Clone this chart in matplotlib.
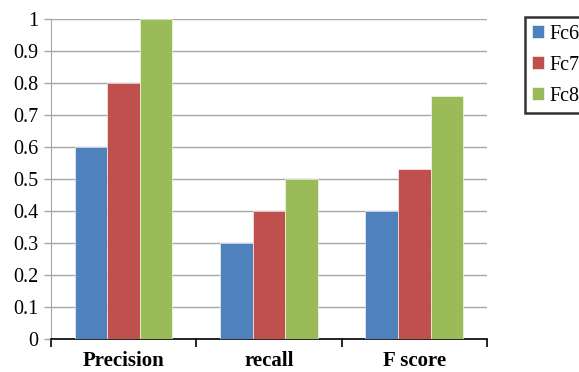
import numpy as np
import matplotlib
matplotlib.use("Agg")
import matplotlib.pyplot as plt

categories = ["Precision", "recall", "F score"]
series_names = ["Fc6", "Fc7", "Fc8"]
fc6 = [0.6, 0.3, 0.4]
fc7 = [0.8, 0.4, 0.53]
fc8 = [1.0, 0.5, 0.76]
colors = ["#4F81BD", "#C0504D", "#9BBB59"]

plt.rcParams["font.family"] = ["Liberation Serif", "DejaVu Serif"]

fig = plt.figure(figsize=(5.79, 3.72), dpi=100)
ax = fig.add_axes([0.088, 0.089, 0.753, 0.860])

x = np.arange(len(categories))
w = 0.224
for i, (vals, name) in enumerate(zip([fc6, fc7, fc8], series_names)):
	ax.bar(x + (i - 1) * w, vals, width=w, color=colors[i], label=name,
		edgecolor="white", linewidth=0.4, zorder=3)

ax.set_xlim(-0.5, 2.5)
ax.set_ylim(0, 1)
ax.set_yticks(np.arange(0, 1.01, 0.1))
ax.set_yticklabels(["0", "0.1", "0.2", "0.3", "0.4", "0.5", "0.6", "0.7", "0.8", "0.9", "1"], fontsize=14.5)
ax.yaxis.grid(True, color="#a6a6a6", linewidth=1.0, zorder=0)
ax.tick_params(axis="y", length=5, color="#a6a6a6", width=1.0, pad=4)

ax.set_xticks([-0.5, 0.5, 1.5, 2.5])
ax.set_xticklabels([])
ax.set_xticks(x, minor=True)
ax.set_xticklabels(categories, minor=True, fontsize=15, fontweight="bold")
ax.tick_params(axis="x", which="major", length=6, width=1.2, color="black")
ax.tick_params(axis="x", which="minor", length=0, pad=8.5)

for s in ["top", "right"]:
	ax.spines[s].set_visible(False)
ax.spines["left"].set_color("#a6a6a6")
ax.spines["bottom"].set_color("black")
ax.spines["bottom"].set_linewidth(1.2)

leg = fig.legend(loc="upper left", bbox_to_anchor=(0.906, 0.953), fontsize=14.5,
	frameon=True, fancybox=False, handlelength=0.6, handleheight=0.6,
	handletextpad=0.3, borderpad=0.35, labelspacing=0.6, borderaxespad=0)
leg.get_frame().set_edgecolor("black")
leg.get_frame().set_linewidth(1.8)

fig.savefig("out.png", dpi=100)
